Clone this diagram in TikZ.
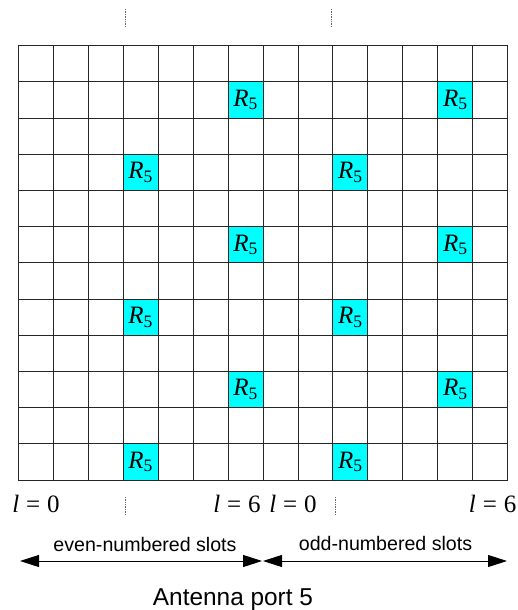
\documentclass[tikz,border=0pt]{standalone}
\usepackage{fontspec}
\setmainfont{Liberation Serif}
\setsansfont{Liberation Sans}
\usetikzlibrary{arrows.meta, positioning}
\definecolor{rscyan}{rgb}{0,1,1}

\begin{document}
\begin{tikzpicture}[x=1pt, y=-1pt,
    rsig/.style={fill=rscyan, draw=black!85, line width=0.9pt, minimum width=34.96pt,
                 minimum height=36.2pt, inner sep=0pt, font=\fontsize{25}{27}\selectfont},
    gitter/.style={draw=black!85, line width=0.9pt},
    lab/.style={font=\fontsize{25}{27}\selectfont, anchor=base},
    slot/.style={font=\sffamily\fontsize{19.6}{22}\selectfont, anchor=base},
    pfeil/.style={{Triangle[length=19pt,width=12pt]}-{Triangle[length=19pt,width=12pt]},
                  line width=0.9pt},
    tickline/.style={densely dotted, line width=0.7pt, black!60}
  ]
    \useasboundingbox (0,0) rectangle (518,610);
    % reference signal cells
    \foreach \r/\c in {1/6,1/12,3/3,3/9,5/6,5/12,7/3,7/9,9/6,9/12,11/3,11/9}
      \node[rsig] (r\r c\c) at ({18.3+(\c+0.5)*34.96},{45.7+(\r+0.5)*36.2})
        {\textit{R}\textsubscript{5}};
    % grid
    \foreach \i in {0,...,14}
      \draw[gitter] ({18.3+\i*34.96},45.7) -- ({18.3+\i*34.96},480);
    \foreach \j in {0,...,12}
      \draw[gitter] (18.3,{45.7+\j*36.2}) -- (507.7,{45.7+\j*36.2});
    % dotted marks
    \draw[tickline] (125.3,9) -- (125.3,27);
    \draw[tickline] (331.7,9) -- (331.7,27);
    \draw[tickline] (125.3,497) -- (125.3,515);
    \draw[tickline] (335,497) -- (335,515);
    % symbol labels
    \node[lab] (evenl0) at (36,512) {\textit{l}\;=\;0};
    \node[lab] (evenl6) at (237,512) {\textit{l}\;=\;6};
    \node[lab] (oddl0) at (293,512) {\textit{l}\;=\;0};
    \node[lab, anchor=base east, inner sep=0pt] (oddl6) at (516.5,512) {\textit{l}\;=\;6};
    % slot arrows
    \coordinate (evenA) at (20,561);
    \coordinate (evenB) at (262,561);
    \coordinate (oddA) at (263,561);
    \coordinate (oddB) at (507,561);
    \draw[pfeil] (evenA) -- (evenB);
    \draw[pfeil] (oddA) -- (oddB);
    \node[slot] (even) at (145,551) {even-numbered slots};
    \node[slot] (odd) at (385.5,550) {odd-numbered slots};
    \node[font=\sffamily\fontsize{24.4}{27}\selectfont, anchor=base] (port)
      at (233,605) {Antenna port 5};
\end{tikzpicture}
\end{document}
